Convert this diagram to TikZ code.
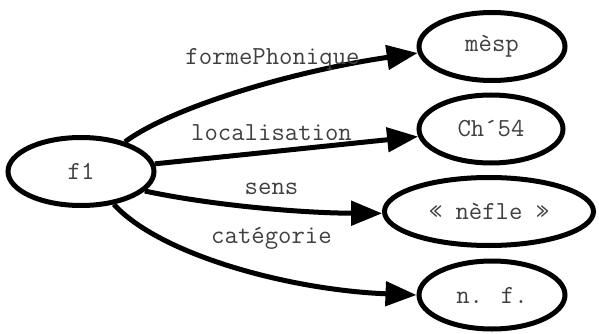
\documentclass[tikz,border=0pt]{standalone}
\usetikzlibrary{arrows.meta,shapes.geometric}
\definecolor{txt}{HTML}{404040}
\tikzset{
  nd/.style={ellipse, draw=black, line width=5pt, inner sep=0pt,
    minimum width=146pt, minimum height=68pt, text=txt,
    font=\ttfamily\fontsize{26}{28}\selectfont},
  edge/.style={line width=5pt, -{Triangle[length=31pt,width=24pt]}},
  lbl/.style={anchor=base, inner sep=0pt, text=txt,
    font=\ttfamily\fontsize{26}{28}\selectfont}
}
\begin{document}
\begin{tikzpicture}[x=1pt,y=-1pt]
\useasboundingbox (0,0) rectangle (599,334);
\node[nd] (f1) at (81,171.5) {f1};
\node[nd] (mesp) at (492,46.5) {mèsp};
\node[nd, minimum width=144pt] (ch) at (491,129) {Ch´54};
\node[nd, minimum width=209pt] (nefle) at (489,211.5) {« nèfle »};
\node[nd] (nf) at (492,295) {n. f.};

\draw[edge] (f1.34) .. controls (175,105) and (300,70) .. (mesp.185);
\draw[edge] (f1) -- (ch);
\draw[edge] (f1.-17) .. controls (210,205) and (300,213) .. (nefle.181);
\draw[edge] (f1.-45) .. controls (160,255) and (290,290) .. (nf.180);

\node[lbl] (l1) at (272.5,65) {formePhonique};
\node[lbl] (l2) at (271.5,140) {localisation};
\node[lbl] (l3) at (271.5,194) {sens};
\node[lbl] (l4) at (271.5,243) {catégorie};
\end{tikzpicture}
\end{document}
